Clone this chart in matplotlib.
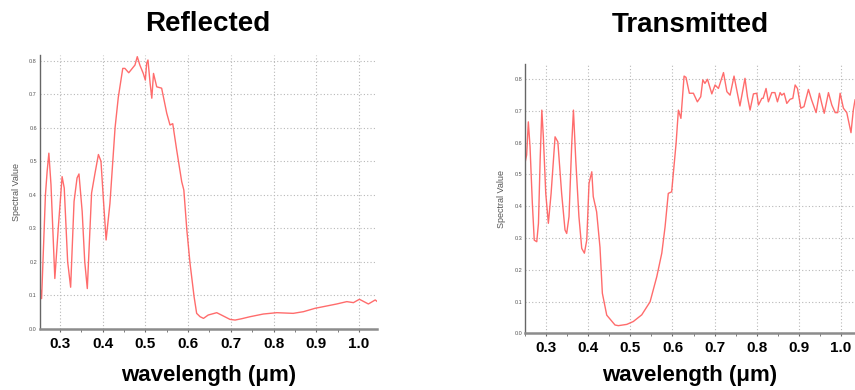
import numpy as np
import matplotlib
matplotlib.use("Agg")
import matplotlib.pyplot as plt
from matplotlib.ticker import MultipleLocator

plt.rcParams['font.family'] = ['Liberation Sans', 'DejaVu Sans']

# Reflected spectrum (wavelength in um, spectral value)
refl_wl = [0.249, 0.257, 0.266, 0.270, 0.274, 0.279, 0.288, 0.296, 0.305, 0.310,
           0.318, 0.325, 0.333, 0.340, 0.3445, 0.352, 0.358, 0.364, 0.374, 0.382,
           0.390, 0.396, 0.402, 0.408, 0.417, 0.429, 0.4365, 0.447, 0.452, 0.461,
           0.4756, 0.481, 0.487, 0.495, 0.4998, 0.503, 0.506, 0.511, 0.515, 0.519,
           0.5265, 0.538, 0.550, 0.5576, 0.564, 0.5733, 0.585, 0.590, 0.597, 0.6045,
           0.614, 0.620, 0.628, 0.636, 0.647, 0.667, 0.678, 0.698, 0.710, 0.7255,
           0.745, 0.776, 0.8075, 0.846, 0.870, 0.897, 0.9245, 0.948, 0.9715, 0.987,
           1.001, 1.022, 1.038, 1.042]
refl_val = [0.165, 0.090, 0.400, 0.470, 0.524, 0.430, 0.150, 0.300, 0.454, 0.420,
            0.200, 0.124, 0.380, 0.450, 0.462, 0.350, 0.200, 0.120, 0.405, 0.464,
            0.520, 0.500, 0.380, 0.265, 0.374, 0.600, 0.690, 0.777, 0.777, 0.764,
            0.787, 0.812, 0.787, 0.762, 0.742, 0.792, 0.802, 0.733, 0.688, 0.762,
            0.722, 0.718, 0.643, 0.608, 0.612, 0.533, 0.439, 0.414, 0.295, 0.195,
            0.0955, 0.046, 0.036, 0.031, 0.041, 0.048, 0.041, 0.028, 0.026, 0.030,
            0.036, 0.044, 0.048, 0.046, 0.051, 0.061, 0.068, 0.074, 0.081, 0.078,
            0.088, 0.074, 0.086, 0.082]

# Transmitted spectrum
trans_wl = [0.250, 0.254, 0.258, 0.262, 0.2675, 0.272, 0.278, 0.282, 0.286, 0.290,
            0.2936, 0.2993, 0.3055, 0.312, 0.3214, 0.328, 0.337, 0.345, 0.349, 0.3545,
            0.361, 0.365, 0.3705, 0.378, 0.3847, 0.391, 0.3966, 0.402, 0.4085, 0.412,
            0.420, 0.428, 0.4336, 0.444, 0.4637, 0.4716, 0.4915, 0.507, 0.527, 0.5468,
            0.5627, 0.5746, 0.5824, 0.590, 0.598, 0.602, 0.6085, 0.614, 0.620, 0.6275,
            0.632, 0.640, 0.6496, 0.659, 0.667, 0.672, 0.677, 0.683, 0.6933, 0.701,
            0.709, 0.721, 0.729, 0.7366, 0.746, 0.754, 0.760, 0.772, 0.7778, 0.784,
            0.792, 0.800, 0.804, 0.812, 0.815, 0.822, 0.8275, 0.8356, 0.843, 0.849,
            0.8553, 0.8593, 0.8648, 0.8712, 0.879, 0.8855, 0.891, 0.8965, 0.9045, 0.912,
            0.9225, 0.930, 0.9407, 0.9485, 0.954, 0.960, 0.970, 0.978, 0.986, 0.992,
            0.9977, 1.0055, 1.0135, 1.0235, 1.029, 1.033]
trans_val = [0.535, 0.561, 0.665, 0.587, 0.409, 0.293, 0.288, 0.346, 0.545, 0.702,
             0.618, 0.440, 0.346, 0.440, 0.618, 0.602, 0.440, 0.325, 0.314, 0.367,
             0.597, 0.702, 0.545, 0.367, 0.267, 0.252, 0.293, 0.472, 0.508, 0.430,
             0.382, 0.270, 0.126, 0.057, 0.026, 0.024, 0.028, 0.037, 0.058, 0.099,
             0.178, 0.252, 0.335, 0.440, 0.445, 0.503, 0.597, 0.702, 0.676, 0.809,
             0.805, 0.755, 0.755, 0.728, 0.744, 0.797, 0.786, 0.799, 0.753, 0.781,
             0.770, 0.820, 0.760, 0.749, 0.809, 0.755, 0.715, 0.802, 0.744, 0.702,
             0.753, 0.755, 0.718, 0.739, 0.739, 0.770, 0.728, 0.757, 0.757, 0.728,
             0.757, 0.749, 0.755, 0.723, 0.736, 0.739, 0.781, 0.770, 0.708, 0.713,
             0.767, 0.734, 0.694, 0.755, 0.723, 0.692, 0.757, 0.718, 0.694, 0.694,
             0.755, 0.708, 0.694, 0.631, 0.702, 0.734]

titles = ["Reflected", "Transmitted"]
xlabel = "wavelength (\u03bcm)"
ylabel = "Spectral Value"

fig = plt.figure(figsize=(8.55, 3.9), dpi=100)
ax1 = fig.add_axes([0.0464, 0.157, 0.3942, 0.702])
ax2 = fig.add_axes([0.614, 0.1454, 0.386, 0.6905])

# axes, data, xlim, ytop, title pad, tick pad, label pad
panels = [(ax1, refl_wl, refl_val, (0.2525, 1.0415), 0.817, 17, 4.0, 10),
          (ax2, trans_wl, trans_val, (0.25, 1.033), 0.847, 23, 3.5, 7.5)]

for (ax, wl, val, xl, ytop, tpad, kpad, lpad), title in zip(panels, titles):
    ax.plot(wl, val, color='#ff5c5c', lw=1.0, alpha=0.9)
    ax.set_xlim(*xl)
    ax.set_ylim(0, ytop)
    ax.xaxis.set_major_locator(MultipleLocator(0.1))
    ax.xaxis.set_minor_locator(MultipleLocator(0.05))
    ax.yaxis.set_major_locator(MultipleLocator(0.1))
    ax.xaxis.set_major_formatter(matplotlib.ticker.FormatStrFormatter('%.1f'))
    ax.yaxis.set_major_formatter(matplotlib.ticker.FormatStrFormatter('%.1f'))
    ax.grid(True, which='major', color='#b8b8b8', lw=0.8, linestyle=(0, (1, 2)))
    for s in ['top', 'right']:
        ax.spines[s].set_visible(False)
    ax.spines['left'].set_color('#666666')
    ax.spines['left'].set_linewidth(1.0)
    ax.spines['bottom'].set_color('#8c8c8c')
    ax.spines['bottom'].set_linewidth(1.8)
    ax.tick_params(axis='x', which='both', length=2, color='#666666', pad=kpad,
                   labelsize=11)
    ax.tick_params(axis='y', length=0, pad=2, labelsize=4, labelcolor='#555555')
    for lab in ax.get_xticklabels():
        lab.set_fontweight('bold')
    ax.set_xlabel(xlabel, fontsize=16, fontweight='bold', labelpad=lpad)
    ax.set_ylabel(ylabel, fontsize=6.5, color='#555555', labelpad=6)
    ax.set_title(title, fontsize=20, fontweight='bold', pad=tpad)

fig.savefig("out.png", dpi=100)
